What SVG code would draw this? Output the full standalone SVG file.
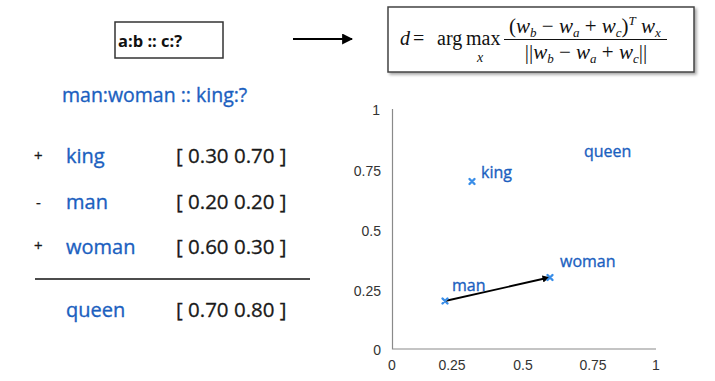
<svg xmlns="http://www.w3.org/2000/svg" width="715" height="381" viewBox="0 0 715 381">
<defs>
<style>
.blue{fill:#1b5fbf;stroke:#1b5fbf;stroke-width:0.35;font-family:"Open Sans","Lato",sans-serif}
.num{fill:#1a1a1a;stroke:#1a1a1a;stroke-width:0.3;font-family:"Open Sans","Lato",sans-serif}
.tick{fill:#333;font-family:"Liberation Sans",Arial,sans-serif;font-size:14px}
.math{font-family:"Liberation Serif","DejaVu Serif",serif;fill:#111}
.axis{stroke:#8a8a8a;stroke-width:1.2;fill:none}
.mk{stroke:#3a8ee8;stroke-width:2.4;stroke-linecap:round}
</style>
<marker id="ah" viewBox="0 0 10 10" refX="9" refY="5" markerWidth="5" markerHeight="5" orient="auto"><path d="M0,0 L10,5 L0,10 z" fill="#000"/></marker>
<marker id="ah2" viewBox="0 0 10 10" refX="9" refY="5" markerWidth="4" markerHeight="4" orient="auto"><path d="M0,0 L10,5 L0,10 z" fill="#000"/></marker>
<filter id="sh" x="-5%" y="-10%" width="112%" height="130%"><feDropShadow dx="2" dy="2" stdDeviation="1.5" flood-color="#000" flood-opacity="0.35"/></filter>
</defs>
<rect width="715" height="381" fill="#fff"/>

<g id="query-box">
<rect x="115" y="22" width="108" height="36" fill="#fff" stroke="#333" stroke-width="1.5"/>
<text x="118" y="47" font-family="Open Sans, Lato, sans-serif" font-size="16.5" font-weight="bold" fill="#111">a:b :: c:?</text>
</g>

<g id="formula-box">
<rect x="388" y="7" width="306" height="65" fill="#fff" stroke="#444" stroke-width="1.5" filter="url(#sh)"/>
<text class="math" font-size="20"><tspan x="400" y="45" font-style="italic">d</tspan><tspan x="413" y="45">=</tspan><tspan x="437" y="45">arg</tspan><tspan x="466" y="45">max</tspan></text>
<text class="math" font-size="14" font-style="italic" x="480" y="62" text-anchor="middle">x</text>
<line x1="504" y1="39.5" x2="667" y2="39.5" stroke="#111" stroke-width="1"/>
<text class="math" font-size="21" x="585" y="33" text-anchor="middle">(<tspan font-style="italic">w</tspan><tspan font-size="13" font-style="italic" dy="4">b</tspan><tspan dy="-4"> − </tspan><tspan font-style="italic">w</tspan><tspan font-size="13" font-style="italic" dy="4">a</tspan><tspan dy="-4"> + </tspan><tspan font-style="italic">w</tspan><tspan font-size="13" font-style="italic" dy="4">c</tspan><tspan dy="-4">)</tspan><tspan font-size="13" font-style="italic" dy="-8">T</tspan><tspan dy="8" font-style="italic"> w</tspan><tspan font-size="13" font-style="italic" dy="4">x</tspan></text>
<text class="math" font-size="21" x="586" y="59" text-anchor="middle">||<tspan font-style="italic">w</tspan><tspan font-size="13" font-style="italic" dy="4">b</tspan><tspan dy="-4"> − </tspan><tspan font-style="italic">w</tspan><tspan font-size="13" font-style="italic" dy="4">a</tspan><tspan dy="-4"> + </tspan><tspan font-style="italic">w</tspan><tspan font-size="13" font-style="italic" dy="4">c</tspan><tspan dy="-4">||</tspan></text>
</g>

<g id="connectors">
<line x1="293" y1="39" x2="352" y2="39" stroke="#000" stroke-width="2.2" marker-end="url(#ah)"/>
<line x1="445" y1="301" x2="549" y2="277.5" stroke="#000" stroke-width="1.8" marker-end="url(#ah2)"/>
</g>

<g id="analogy">
<text class="blue" x="62" y="102" font-size="19.5">man:woman :: king:?</text>
<text class="num" x="34" y="161" font-size="15">+</text>
<text class="blue" x="66" y="163" font-size="20">king</text>
<text class="num" x="176" y="163" font-size="20.5">[ 0.30 0.70 ]</text>
<text class="num" x="36" y="208" font-size="15">-</text>
<text class="blue" x="66" y="209" font-size="20">man</text>
<text class="num" x="176" y="209" font-size="20.5">[ 0.20 0.20 ]</text>
<text class="num" x="34" y="251" font-size="15">+</text>
<text class="blue" x="66" y="254" font-size="20">woman</text>
<text class="num" x="176" y="254" font-size="20.5">[ 0.60 0.30 ]</text>
<line x1="35" y1="279" x2="310" y2="279" stroke="#111" stroke-width="1.5"/>
<text class="blue" x="66" y="317" font-size="20">queen</text>
<text class="num" x="176" y="317" font-size="20.5">[ 0.70 0.80 ]</text>
</g>

<g id="chart">
<path class="axis" d="M392.5,109 V349 H656"/>
<text class="tick" x="380" y="115" text-anchor="end">1</text>
<text class="tick" x="381" y="176" text-anchor="end">0.75</text>
<text class="tick" x="381" y="236" text-anchor="end">0.5</text>
<text class="tick" x="381" y="296" text-anchor="end">0.25</text>
<text class="tick" x="381" y="355" text-anchor="end">0</text>
<text class="tick" x="392" y="370" text-anchor="middle">0</text>
<text class="tick" x="452" y="370" text-anchor="middle">0.25</text>
<text class="tick" x="523" y="370" text-anchor="middle">0.5</text>
<text class="tick" x="593" y="370" text-anchor="middle">0.75</text>
<text class="tick" x="656" y="370" text-anchor="middle">1</text>
</g>

<g id="point-king">
<path class="mk" d="M469.5,179 l5,5 M474.5,179 l-5,5"/>
<text class="blue" x="481" y="178" font-size="16">king</text>
</g>
<g id="point-man">
<path class="mk" d="M442.5,298.5 l5,5 M447.5,298.5 l-5,5"/>
<text class="blue" x="452" y="291" font-size="16">man</text>
</g>
<g id="point-woman">
<path class="mk" d="M547.5,275 l5,5 M552.5,275 l-5,5"/>
<text class="blue" x="560" y="267" font-size="16">woman</text>
</g>
<g id="label-queen">
<text class="blue" x="584" y="157" font-size="16">queen</text>
</g>
</svg>
